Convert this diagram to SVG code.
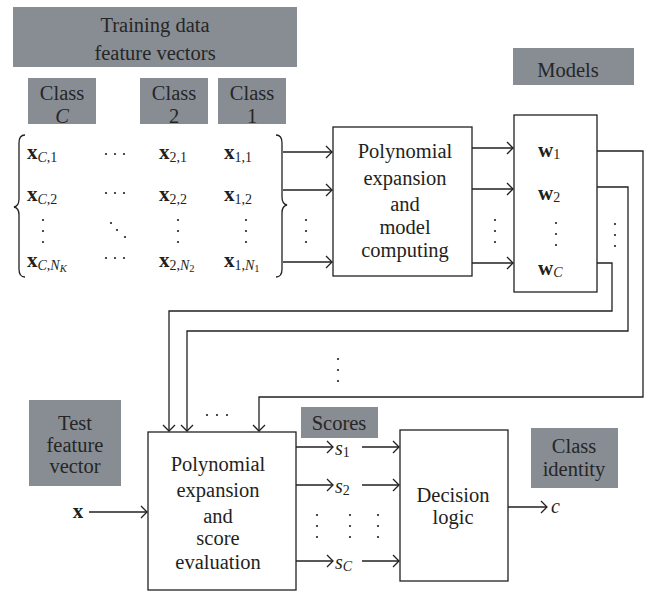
<svg xmlns="http://www.w3.org/2000/svg" width="650" height="591" viewBox="0 0 650 591">
<defs>
<style>
text{font-family:"Liberation Serif","Times New Roman",serif;fill:#231f20}
.lbl{font-size:20.5px;fill:#262626;text-anchor:middle}
.gray{fill:#878d93}
.box{fill:#fff;stroke:#231f20;stroke-width:1.3}
.t{font-size:20.5px;text-anchor:middle}
.bx{font-weight:bold;font-size:21px}
.sb{font-size:14px}
.it{font-style:italic}
.ln{fill:none;stroke:#231f20;stroke-width:1.3}
.dot{fill:#231f20}
</style>
<marker id="ah" markerUnits="userSpaceOnUse" markerWidth="12" markerHeight="14" viewBox="-8 -7 10 14" refX="0" refY="0" orient="auto">
<path d="M-6,-6 L0,0 L-6,6" fill="none" stroke="#231f20" stroke-width="1.3"/>
</marker>
</defs>
<rect width="650" height="591" fill="#fff"/>

<g id="training-label">
<rect class="gray" x="13" y="7" width="284" height="60"/>
<text class="lbl" x="155" y="32">Training data</text>
<text class="lbl" x="155" y="60">feature vectors</text>
</g>
<g id="classC-label">
<rect class="gray" x="28" y="78" width="68" height="46"/>
<text class="lbl" x="62" y="100">Class</text>
<text class="lbl it" x="62" y="123">C</text>
</g>
<g id="class2-label">
<rect class="gray" x="140" y="78" width="68" height="46"/>
<text class="lbl" x="174" y="100">Class</text>
<text class="lbl" x="174" y="123">2</text>
</g>
<g id="class1-label">
<rect class="gray" x="218" y="78" width="68" height="46"/>
<text class="lbl" x="252" y="100">Class</text>
<text class="lbl" x="252" y="123">1</text>
</g>

<g id="training-matrix">
<path class="ln" d="M25,135 Q19,135 19,143 L19,199 Q19,206 14,207 Q19,208 19,215 L19,269 Q19,277 25,277"/>
<path class="ln" d="M276,135 Q282,135 282,143 L282,197 Q282,204 287,205 Q282,206 282,213 L282,269 Q282,277 276,277"/>
<text x="27" y="159"><tspan class="bx">x</tspan><tspan class="sb it" dy="3">C</tspan><tspan class="sb">,1</tspan></text>
<text x="27" y="201"><tspan class="bx">x</tspan><tspan class="sb it" dy="3">C</tspan><tspan class="sb">,2</tspan></text>
<text x="27" y="267"><tspan class="bx">x</tspan><tspan class="sb it" dy="3">C</tspan><tspan class="sb">,</tspan><tspan class="sb it">N</tspan><tspan class="it" font-size="10.5px" dy="2">K</tspan></text>
<text x="159" y="159"><tspan class="bx">x</tspan><tspan class="sb" dy="3">2,1</tspan></text>
<text x="159" y="201"><tspan class="bx">x</tspan><tspan class="sb" dy="3">2,2</tspan></text>
<text x="159" y="267"><tspan class="bx">x</tspan><tspan class="sb" dy="3">2,</tspan><tspan class="sb it">N</tspan><tspan font-size="10.5px" dy="2">2</tspan></text>
<text x="224" y="159"><tspan class="bx">x</tspan><tspan class="sb" dy="3">1,1</tspan></text>
<text x="224" y="201"><tspan class="bx">x</tspan><tspan class="sb" dy="3">1,2</tspan></text>
<text x="224" y="267"><tspan class="bx">x</tspan><tspan class="sb" dy="3">1,</tspan><tspan class="sb it">N</tspan><tspan font-size="10.5px" dy="2">1</tspan></text>
<g class="dot">
<circle cx="106" cy="154" r="1.1"/><circle cx="115" cy="154" r="1.1"/><circle cx="124" cy="154" r="1.1"/>
<circle cx="106" cy="193" r="1.1"/><circle cx="115" cy="193" r="1.1"/><circle cx="124" cy="193" r="1.1"/>
<circle cx="106" cy="258" r="1.1"/><circle cx="115" cy="258" r="1.1"/><circle cx="124" cy="258" r="1.1"/>
<circle cx="111" cy="223" r="1.1"/><circle cx="117" cy="230" r="1.1"/><circle cx="125" cy="237" r="1.1"/>
<circle cx="43" cy="220" r="1.1"/><circle cx="43" cy="231" r="1.1"/><circle cx="43" cy="242" r="1.1"/>
<circle cx="178" cy="220" r="1.1"/><circle cx="178" cy="231" r="1.1"/><circle cx="178" cy="242" r="1.1"/>
<circle cx="246" cy="220" r="1.1"/><circle cx="246" cy="231" r="1.1"/><circle cx="246" cy="242" r="1.1"/>
</g>
</g>

<g id="model-computing">
<rect class="box" x="333" y="127" width="139" height="149"/>
<text class="t" x="405" y="158">Polynomial</text>
<text class="t" x="405" y="185">expansion</text>
<text class="t" x="405" y="211">and</text>
<text class="t" x="405" y="234">model</text>
<text class="t" x="405" y="257">computing</text>
</g>

<g id="models-label">
<rect class="gray" x="513" y="48" width="121" height="37"/>
<text class="lbl" x="568" y="77">Models</text>
</g>
<g id="models">
<rect class="box" x="514" y="115" width="83" height="177"/>
<text x="538" y="157"><tspan class="bx">w</tspan><tspan class="sb" dy="2">1</tspan></text>
<text x="538" y="200"><tspan class="bx">w</tspan><tspan class="sb" dy="2">2</tspan></text>
<text x="538" y="275"><tspan class="bx">w</tspan><tspan class="sb it" dy="2">C</tspan></text>
<g class="dot"><circle cx="556" cy="223" r="1.1"/><circle cx="556" cy="234" r="1.1"/><circle cx="556" cy="245" r="1.1"/></g>
</g>

<g id="test-label">
<rect class="gray" x="29" y="400" width="92" height="86"/>
<text class="lbl" x="75" y="430">Test</text>
<text class="lbl" x="75" y="452">feature</text>
<text class="lbl" x="75" y="473">vector</text>
</g>
<g id="score-evaluation">
<rect class="box" x="148" y="432" width="148" height="158"/>
<text class="t" x="218" y="471">Polynomial</text>
<text class="t" x="218" y="497">expansion</text>
<text class="t" x="218" y="523">and</text>
<text class="t" x="218" y="545">score</text>
<text class="t" x="218" y="569">evaluation</text>
</g>
<g id="scores-label">
<rect class="gray" x="301" y="407" width="77" height="31"/>
<text class="lbl" x="339" y="430">Scores</text>
</g>
<g id="decision">
<rect class="box" x="400" y="430" width="108" height="151"/>
<text class="t" x="453" y="502">Decision</text>
<text class="t" x="453" y="524">logic</text>
</g>
<g id="identity-label">
<rect class="gray" x="531" y="428" width="87" height="60"/>
<text class="lbl" x="574" y="453">Class</text>
<text class="lbl" x="574" y="476">identity</text>
</g>

<g id="connectors">
<path class="ln" marker-end="url(#ah)" d="M283,152 L332,152"/>
<path class="ln" marker-end="url(#ah)" d="M283,190 L332,190"/>
<path class="ln" marker-end="url(#ah)" d="M283,262 L332,262"/>
<path class="ln" marker-end="url(#ah)" d="M472,148 L513,148"/>
<path class="ln" marker-end="url(#ah)" d="M472,189 L513,189"/>
<path class="ln" marker-end="url(#ah)" d="M472,263 L513,263"/>
<path class="ln" marker-end="url(#ah)" d="M597,151 L643,151 L643,397 L259,397 L259,431"/>
<path class="ln" marker-end="url(#ah)" d="M597,187 L628,187 L628,331 L187,331 L187,431"/>
<path class="ln" marker-end="url(#ah)" d="M597,263 L612,263 L612,311 L169,311 L169,431"/>
<path class="ln" marker-end="url(#ah)" d="M89,512 L147,512"/>
<path class="ln" marker-end="url(#ah)" d="M296,447 L333,447"/>
<path class="ln" marker-end="url(#ah)" d="M296,485 L333,485"/>
<path class="ln" marker-end="url(#ah)" d="M296,561 L333,561"/>
<path class="ln" marker-end="url(#ah)" d="M362,447 L399,447"/>
<path class="ln" marker-end="url(#ah)" d="M362,485 L399,485"/>
<path class="ln" marker-end="url(#ah)" d="M362,561 L399,561"/>
<path class="ln" marker-end="url(#ah)" d="M508,507 L547,507"/>
<g class="dot">
<circle cx="306" cy="220" r="1.1"/><circle cx="306" cy="231" r="1.1"/><circle cx="306" cy="242" r="1.1"/>
<circle cx="495" cy="220" r="1.1"/><circle cx="495" cy="231" r="1.1"/><circle cx="495" cy="242" r="1.1"/>
<circle cx="615" cy="224" r="1.1"/><circle cx="615" cy="235" r="1.1"/><circle cx="615" cy="246" r="1.1"/>
<circle cx="338" cy="359" r="1.1"/><circle cx="338" cy="370" r="1.1"/><circle cx="338" cy="381" r="1.1"/>
<circle cx="207" cy="415" r="1.1"/><circle cx="217" cy="415" r="1.1"/><circle cx="227" cy="415" r="1.1"/>
<circle cx="317" cy="515" r="1.1"/><circle cx="317" cy="526" r="1.1"/><circle cx="317" cy="537" r="1.1"/>
<circle cx="350" cy="515" r="1.1"/><circle cx="350" cy="526" r="1.1"/><circle cx="350" cy="537" r="1.1"/>
<circle cx="378" cy="515" r="1.1"/><circle cx="378" cy="526" r="1.1"/><circle cx="378" cy="537" r="1.1"/>
</g>
<text x="78" y="518" class="bx" text-anchor="middle">x</text>
<text x="335" y="455"><tspan class="it" font-size="20px">s</tspan><tspan class="sb" dy="2">1</tspan></text>
<text x="335" y="493"><tspan class="it" font-size="20px">s</tspan><tspan class="sb" dy="2">2</tspan></text>
<text x="335" y="569"><tspan class="it" font-size="20px">s</tspan><tspan class="sb it" dy="2">C</tspan></text>
<text x="551" y="513" class="it" font-size="20px">c</text>
</g>
</svg>
